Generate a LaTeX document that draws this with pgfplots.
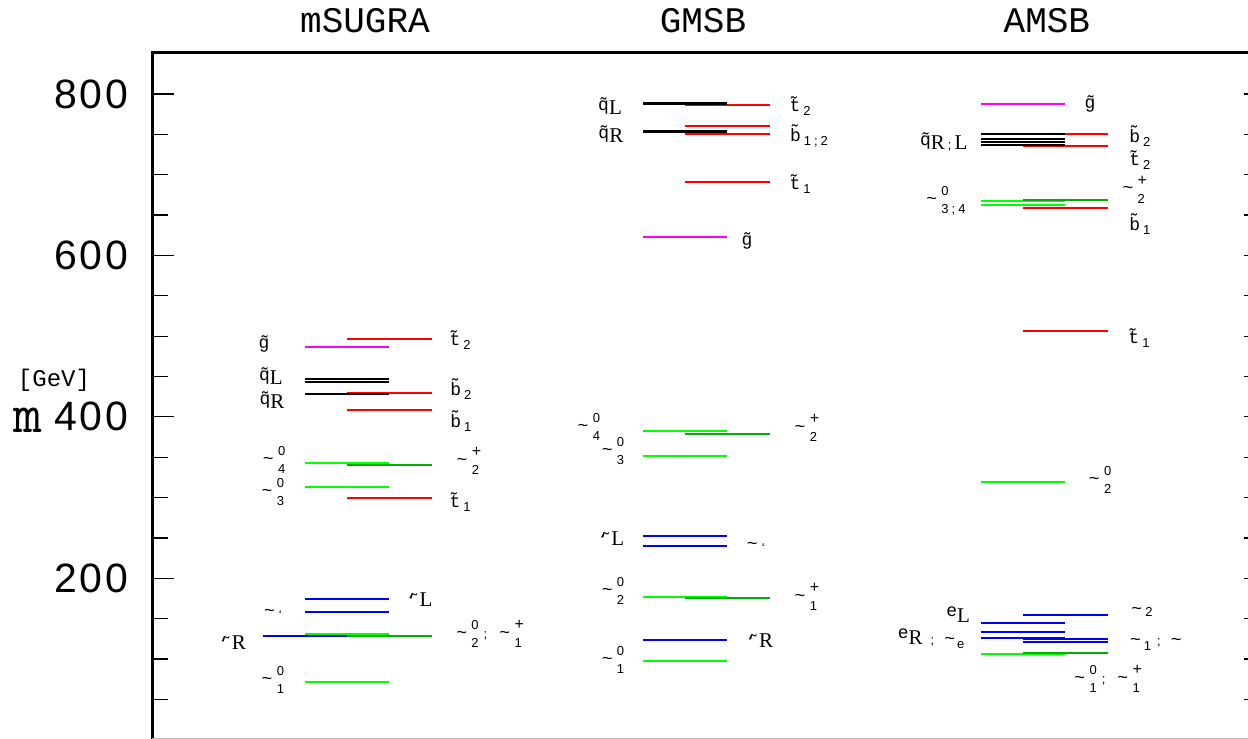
\documentclass[border=0pt]{standalone}
\usepackage{fontspec}
\setmainfont{Liberation Mono}
\newfontfamily\numfont{Liberation Sans}[LetterSpace=6]
\newfontfamily\digfont{Liberation Sans}
\newfontfamily\serfont{Liberation Serif}
\usepackage{pgfplots}
\pgfplotsset{compat=1.18}

\definecolor{lvred}{RGB}{255,0,0}
\definecolor{lvgreen}{RGB}{0,255,0}
\definecolor{lvdkgreen}{RGB}{0,175,0}
\definecolor{lvblue}{RGB}{0,0,255}
\definecolor{lvmag}{RGB}{255,0,255}

% label fonts
\newcommand\LF{\fontsize{9}{10}\selectfont}
\newcommand\DF{\digfont\fontsize{6.5}{7}\selectfont}
\newcommand\RF{\serfont\fontsize{10.5}{11}\selectfont}
\newcommand\tl{{\LF\char`\~}}
\newcommand\pl{{\digfont\fontsize{8}{8}\selectfont +}}
\newsavebox\supbox
\newsavebox\subbox
% stacked superscript / subscript
\newcommand\stk[2]{%
  \sbox\supbox{\DF #1}\sbox\subbox{\DF #2}%
  \ifdim\wd\supbox>\wd\subbox
    \rlap{\raisebox{-4.7pt}{\usebox\subbox}}\raisebox{4.3pt}{\usebox\supbox}%
  \else
    \rlap{\raisebox{4.3pt}{\usebox\supbox}}\raisebox{-4.7pt}{\usebox\subbox}%
  \fi}
\newcommand\ch[2]{\tl\kern2.2pt\stk{#1}{#2}}
\newcommand\tb[2]{{\LF #1}\kern1.5pt\raisebox{-2pt}{\DF #2}}
\newcommand\qs[1]{{\LF\raisebox{2pt}{q̃}}{\RF #1}}
\newcommand\slep[1]{{\LF\rlap{‘}\kern1.5pt˜}{\RF #1}}
\newcommand\snu{\tl\kern2pt\raisebox{-1.5pt}{\DF ‘}}
\newcommand\sep{\kern1.5pt{\DF ;}\kern1.5pt}

\tikzset{lab/.style={inner sep=0pt, anchor=center}}
\pgfplotsset{
  lvl/.style={line width=1pt, no marks},
  frame/.style={x=21.125pt, y=0.4036pt,
    xmin=0.386, xmax=26.604, ymin=1.5, ymax=850.8,
    axis line style={draw=none}, xtick=\empty,
    tick style={black, line width=0.6pt}, tick align=inside},
}

\begin{document}
\begin{tikzpicture}
\begin{axis}[frame, clip=false,
  ytick={200,400,600,800},
  yticklabels={200,400,600,800},
  minor ytick={50,100,150,250,300,350,450,500,550,650,700,750},
  ytick pos=left,
  major tick length=11pt, minor tick length=8pt,
  yticklabel style={font=\numfont\fontsize{20.5}{22}\selectfont, inner sep=0pt, xshift=-12pt},
]
% frame lines
\draw[line width=1.5pt] (rel axis cs:0,0) -- (rel axis cs:0,1) -- (rel axis cs:1,1);
\draw[gray!55, line width=0.6pt] (rel axis cs:0,0) -- (rel axis cs:1,0);

% ---------------- mSUGRA ----------------
\addplot[lvl, lvmag]     coordinates {(4,487) (6,487)};
\addplot[lvl, lvred]     coordinates {(5,497) (7,497)};
\addplot[lvl, lvred]     coordinates {(5,430) (7,430)};
\addplot[lvl, lvred]     coordinates {(5,409) (7,409)};
\addplot[lvl, lvred]     coordinates {(5,299) (7,299)};
\addplot[lvl, black]     coordinates {(4,447) (6,447)};
\addplot[lvl, black]     coordinates {(4,443) (6,443)};
\addplot[lvl, black]     coordinates {(4,428.5) (6,428.5)};
\addplot[lvl, lvgreen]   coordinates {(4,343) (6,343)};
\addplot[lvl, lvdkgreen] coordinates {(5,340) (7,340)};
\addplot[lvl, lvgreen]   coordinates {(4,313) (6,313)};
\addplot[lvl, lvblue]    coordinates {(4,174) (6,174)};
\addplot[lvl, lvblue]    coordinates {(4,158) (6,158)};
\addplot[lvl, lvblue]    coordinates {(3,129) (5,129)};
\addplot[lvl, lvgreen]   coordinates {(4,130.5) (6,130.5)};
\addplot[lvl, lvdkgreen] coordinates {(5,128.5) (7,128.5)};
\addplot[lvl, lvgreen]   coordinates {(4,72) (6,72)};

% ---------------- GMSB ----------------
\addplot[lvl, lvred]     coordinates {(13,786) (15,786)};
\addplot[lvl, lvred]     coordinates {(13,760) (15,760)};
\addplot[lvl, lvred]     coordinates {(13,751) (15,751)};
\addplot[lvl, lvred]     coordinates {(13,691) (15,691)};
\addplot[lvl, black]     coordinates {(12,789) (14,789)};
\addplot[lvl, black]     coordinates {(12,787) (14,787)};
\addplot[lvl, black]     coordinates {(12,754) (14,754)};
\addplot[lvl, black]     coordinates {(12,752.5) (14,752.5)};
\addplot[lvl, lvmag]     coordinates {(12,623) (14,623)};
\addplot[lvl, lvgreen]   coordinates {(12,382) (14,382)};
\addplot[lvl, lvdkgreen] coordinates {(13,379) (15,379)};
\addplot[lvl, lvgreen]   coordinates {(12,351) (14,351)};
\addplot[lvl, lvblue]    coordinates {(12,252) (14,252)};
\addplot[lvl, lvblue]    coordinates {(12,240) (14,240)};
\addplot[lvl, lvgreen]   coordinates {(12,177) (14,177)};
\addplot[lvl, lvdkgreen] coordinates {(13,175) (15,175)};
\addplot[lvl, lvblue]    coordinates {(12,124) (14,124)};
\addplot[lvl, lvgreen]   coordinates {(12,97) (14,97)};

% ---------------- AMSB ----------------
\addplot[lvl, lvmag]     coordinates {(20,788) (22,788)};
\addplot[lvl, lvred]     coordinates {(21,750) (23,750)};
\addplot[lvl, lvred]     coordinates {(21,735) (23,735)};
\addplot[lvl, lvred]     coordinates {(21,659) (23,659)};
\addplot[lvl, lvred]     coordinates {(21,506) (23,506)};
\addplot[lvl, black]     coordinates {(20,751) (22,751)};
\addplot[lvl, black]     coordinates {(20,744) (22,744)};
\addplot[lvl, black]     coordinates {(20,740) (22,740)};
\addplot[lvl, black]     coordinates {(20,737) (22,737)};
\addplot[lvl, lvgreen]   coordinates {(20,668) (22,668)};
\addplot[lvl, lvgreen]   coordinates {(20,662) (22,662)};
\addplot[lvl, lvdkgreen] coordinates {(21,669) (23,669)};
\addplot[lvl, lvgreen]   coordinates {(20,319) (22,319)};
\addplot[lvl, lvblue]    coordinates {(21,154) (23,154)};
\addplot[lvl, lvblue]    coordinates {(20,145) (22,145)};
\addplot[lvl, lvblue]    coordinates {(20,133) (22,133)};
\addplot[lvl, lvblue]    coordinates {(20,126) (22,126)};
\addplot[lvl, lvblue]    coordinates {(21,125) (23,125)};
\addplot[lvl, lvblue]    coordinates {(21,121) (23,121)};
\addplot[lvl, lvgreen]   coordinates {(20,106) (22,106)};
\addplot[lvl, lvdkgreen] coordinates {(21,107) (23,107)};

% ---------------- titles and axis label ----------------
\node[anchor=base, font=\fontsize{18}{20}\selectfont] at (axis cs:5.42,876.8) {mSUGRA};
\node[anchor=base, font=\fontsize{18}{20}\selectfont] at (axis cs:13.42,876.8) {GMSB};
\node[anchor=base, font=\fontsize{18}{20}\selectfont] at (axis cs:21.56,876.8) {AMSB};
\node[lab, font=\ttfamily\fontsize{28}{30}\selectfont] at (axis cs:-2.556,396) {m};
\node[lab, font=\fontsize{12}{14}\selectfont] at (axis cs:-1.941,445.7) {[GeV]};

% ---------------- particle labels: mSUGRA ----------------
\node[lab] at (axis cs:3.03,490.3) {\LF g̃};
\node[lab] at (axis cs:7.67,495.2) {\tb{t̃}{2}};
\node[lab] at (axis cs:3.195,450.6) {\qs{L}};
\node[lab] at (axis cs:3.22,420.9) {\qs{R}};
\node[lab] at (axis cs:7.69,434.5) {\tb{b̃}{2}};
\node[lab] at (axis cs:7.69,394.9) {\tb{b̃}{1}};
\node[lab] at (axis cs:3.27,346.6) {\ch{0}{4}};
\node[lab] at (axis cs:7.88,345.3) {\ch{\pl}{2}};
\node[lab] at (axis cs:3.24,306.9) {\ch{0}{3}};
\node[lab] at (axis cs:7.67,294.5) {\tb{t̃}{1}};
\node[lab] at (axis cs:6.70,173.1) {\slep{L}};
\node[lab] at (axis cs:3.24,155.8) {\snu};
\node[lab] at (axis cs:2.27,119.9) {\slep{R}};
\node[lab] at (axis cs:8.38,131) {\ch{0}{2}\kern2.5pt{\DF ;}\kern6pt\ch{\pl}{1}};
\node[lab] at (axis cs:3.24,74) {\ch{0}{1}};

% ---------------- particle labels: GMSB ----------------
\node[lab] at (axis cs:11.22,785.1) {\qs{L}};
\node[lab] at (axis cs:15.72,785.1) {\tb{t̃}{2}};
\node[lab] at (axis cs:11.24,750.4) {\qs{R}};
\node[lab] at (axis cs:15.93,748) {\tb{b̃}{1\sep 2}};
\node[lab] at (axis cs:15.72,688.5) {\tb{t̃}{1}};
\node[lab] at (axis cs:14.46,617.9) {\LF g̃};
\node[lab] at (axis cs:10.72,387.5) {\ch{0}{4}};
\node[lab] at (axis cs:15.88,386.2) {\ch{\pl}{2}};
\node[lab] at (axis cs:11.29,357.7) {\ch{0}{3}};
\node[lab] at (axis cs:11.24,248.7) {\slep{L}};
\node[lab] at (axis cs:14.67,238.8) {\snu};
\node[lab] at (axis cs:11.29,184.3) {\ch{0}{2}};
\node[lab] at (axis cs:15.88,176.9) {\ch{\pl}{1}};
\node[lab] at (axis cs:14.75,122.3) {\slep{R}};
\node[lab] at (axis cs:11.29,98.8) {\ch{0}{1}};

% ---------------- particle labels: AMSB ----------------
\node[lab] at (axis cs:22.58,787.6) {\LF g̃};
\node[lab] at (axis cs:19.12,740.5) {{\LF\raisebox{2pt}{q̃}}{\RF R}\sep{\RF L}};
\node[lab] at (axis cs:23.76,748) {\tb{b̃}{2}};
\node[lab] at (axis cs:23.76,718) {\tb{t̃}{2}};
\node[lab] at (axis cs:23.64,681.5) {\ch{\pl}{2}};
\node[lab] at (axis cs:19.17,667.4) {\ch{0}{3\sep 4}};
\node[lab] at (axis cs:23.76,639) {\tb{b̃}{1}};
\node[lab] at (axis cs:23.74,497.7) {\tb{t̃}{1}};
\node[lab] at (axis cs:22.82,321.8) {\ch{0}{2}};
\node[lab] at (axis cs:19.46,154.6) {{\LF\raisebox{3pt}{e}}{\RF L}};
\node[lab] at (axis cs:23.81,158.3) {\raisebox{1pt}{\tl}\kern1.5pt{\DF 2}};
\node[lab] at (axis cs:18.82,124.8) {{\LF\raisebox{3pt}{e}}{\RF R}\kern4pt{\DF ;}\kern5pt\tl\kern1pt\raisebox{-2pt}{\DF e}};
\node[lab] at (axis cs:24.14,118.6) {\tl\kern1.5pt\raisebox{-2.5pt}{\DF 1}\kern3pt{\DF ;}\kern5pt\tl};
\node[lab] at (axis cs:23.01,75.3) {\ch{0}{1}\kern2.5pt{\DF ;}\kern6pt\ch{\pl}{1}};

\coordinate (bbsw) at (axis cs:-3.219,0.94);
\coordinate (bbne) at (axis cs:26.32,916.46);
\end{axis}
% ticks along the right-hand frame
\begin{axis}[frame,
  ytick={50,100,...,800}, yticklabels={}, ytick pos=right,
  major tick length=8pt]
\end{axis}
\pgfresetboundingbox
\path[use as bounding box] (bbsw) rectangle (bbne);
\end{tikzpicture}
\end{document}
